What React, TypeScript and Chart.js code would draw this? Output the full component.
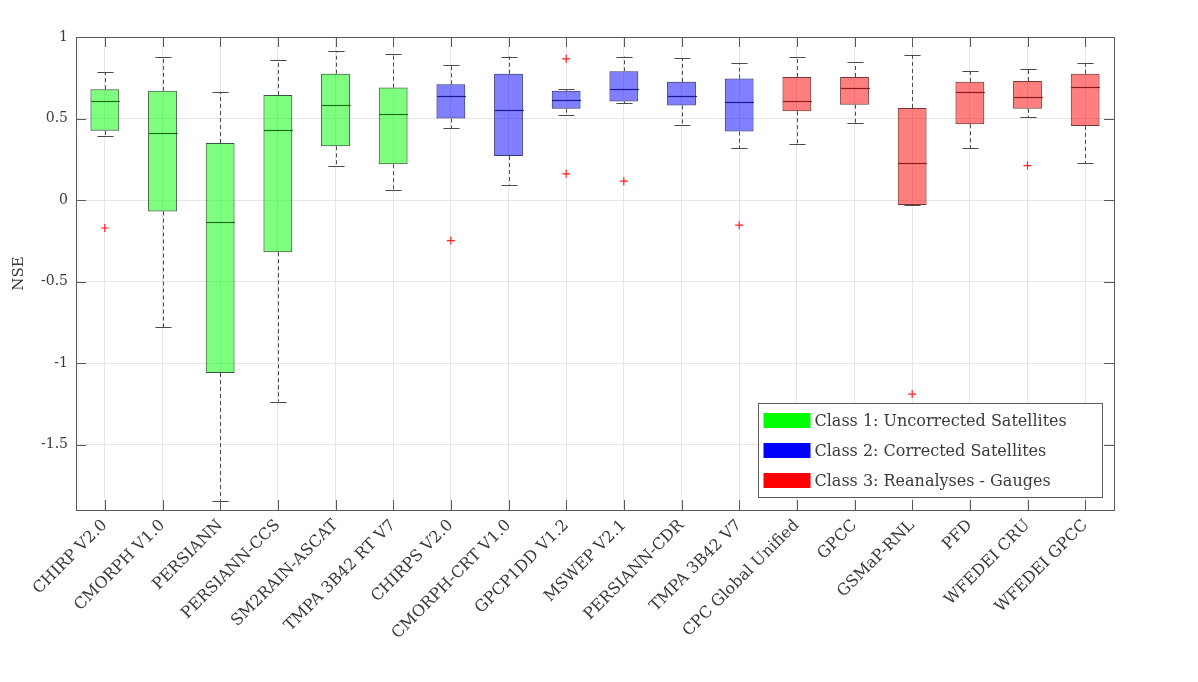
import React, { useEffect, useRef } from 'react';
import { Chart, registerables } from 'chart.js';

Chart.register(...registerables);

const categories = [
  'CHIRP V2.0', 'CMORPH V1.0', 'PERSIANN', 'PERSIANN-CCS', 'SM2RAIN-ASCAT', 'TMPA 3B42 RT V7',
  'CHIRPS V2.0', 'CMORPH-CRT V1.0', 'GPCP1DD V1.2', 'MSWEP V2.1', 'PERSIANN-CDR', 'TMPA 3B42 V7',
  'CPC Global Unified', 'GPCC', 'GSMaP-RNL', 'PFD', 'WFEDEI CRU', 'WFEDEI GPCC',
];
const classOf = [0, 0, 0, 0, 0, 0, 1, 1, 1, 1, 1, 1, 2, 2, 2, 2, 2, 2];
const classLabels = ['Class 1: Uncorrected Satellites', 'Class 2: Corrected Satellites', 'Class 3: Reanalyses - Gauges'];

const whiskerLow = [0.39, -0.78, -1.845, -1.235, 0.21, 0.06, 0.44, 0.095, 0.52, 0.595, 0.46, 0.32, 0.345, 0.47, -0.03, 0.32, 0.51, 0.225];
const q1 = [0.425, -0.07, -1.06, -0.32, 0.33, 0.22, 0.5, 0.27, 0.56, 0.605, 0.58, 0.42, 0.545, 0.585, -0.03, 0.465, 0.56, 0.455];
const median = [0.61, 0.41, -0.135, 0.43, 0.585, 0.525, 0.64, 0.555, 0.615, 0.68, 0.64, 0.6, 0.61, 0.69, 0.23, 0.66, 0.63, 0.695];
const q3 = [0.68, 0.67, 0.35, 0.645, 0.775, 0.69, 0.71, 0.775, 0.67, 0.79, 0.725, 0.745, 0.755, 0.755, 0.565, 0.725, 0.73, 0.775];
const whiskerHigh = [0.785, 0.88, 0.665, 0.86, 0.915, 0.895, 0.83, 0.88, 0.68, 0.88, 0.87, 0.84, 0.88, 0.845, 0.89, 0.79, 0.805, 0.84];

const outlierCategories = ['CHIRP V2.0', 'CHIRPS V2.0', 'GPCP1DD V1.2', 'GPCP1DD V1.2', 'MSWEP V2.1', 'TMPA 3B42 V7', 'GSMaP-RNL', 'WFEDEI CRU'];
const outlierValues = [-0.171, -0.248, 0.866, 0.161, 0.116, -0.154, -1.189, 0.212];

const yTickValues = [1, 0.5, 0, -0.5, -1, -1.5];
const yMin = -1.9;
const yMax = 1;

const fillColors = ['rgba(0,255,0,0.5)', 'rgba(0,0,255,0.5)', 'rgba(255,0,0,0.5)'];
const edgeColors = ['#35583a', '#363678', '#783636'];
const medianColors = ['#1a6e1a', '#1a1a8c', '#8c1a1a'];
const swatchColors = ['#00ff00', '#0000ff', '#ff0000'];
const OUTLIER = '#ff2020';

const FONT = "'DejaVu Serif', 'Liberation Serif', serif";
const TEXT = '#3a3a3a';
const AXIS = '#5a5a5a';

const boxPlugin = {
  id: 'boxExtras',
  afterDatasetsDraw(chart: any) {
    const { ctx, scales } = chart;
    const x = scales.x;
    const y = scales.y;
    const step = x.getPixelForValue(1) - x.getPixelForValue(0);
    const half = step * 0.25;
    const cap = step * 0.14;
    ctx.save();
    for (let i = 0; i < categories.length; i++) {
      const cx = Math.round(x.getPixelForValue(i)) + 0.5;
      const c = classOf[i];
      ctx.strokeStyle = '#4a4a4a';
      ctx.lineWidth = 1;
      ctx.setLineDash([4, 3]);
      ctx.beginPath();
      ctx.moveTo(cx, y.getPixelForValue(q3[i]));
      ctx.lineTo(cx, y.getPixelForValue(whiskerHigh[i]));
      ctx.moveTo(cx, y.getPixelForValue(q1[i]));
      ctx.lineTo(cx, y.getPixelForValue(whiskerLow[i]));
      ctx.stroke();
      ctx.setLineDash([]);
      ctx.beginPath();
      const yh = Math.round(y.getPixelForValue(whiskerHigh[i])) + 0.5;
      const yl = Math.round(y.getPixelForValue(whiskerLow[i])) + 0.5;
      ctx.moveTo(cx - cap, yh);
      ctx.lineTo(cx + cap, yh);
      ctx.moveTo(cx - cap, yl);
      ctx.lineTo(cx + cap, yl);
      ctx.stroke();
      ctx.strokeStyle = medianColors[c];
      ctx.lineWidth = 1.2;
      ctx.beginPath();
      const ym = Math.round(y.getPixelForValue(median[i])) + 0.5;
      ctx.moveTo(cx - half, ym);
      ctx.lineTo(cx + half, ym);
      ctx.stroke();
    }
    ctx.restore();
  },
  afterDraw(chart: any) {
    const { ctx, chartArea, scales } = chart;
    const x = scales.x;
    const y = scales.y;
    const { left, right, top, bottom } = chartArea;
    ctx.save();
    ctx.strokeStyle = AXIS;
    ctx.lineWidth = 1;
    ctx.strokeRect(Math.round(left) + 0.5, Math.round(top) + 0.5, Math.round(right - left), Math.round(bottom - top));
    const tl = 10;
    ctx.beginPath();
    for (let i = 0; i < categories.length; i++) {
      const px = Math.round(x.getPixelForValue(i)) + 0.5;
      ctx.moveTo(px, bottom);
      ctx.lineTo(px, bottom - tl);
      ctx.moveTo(px, top);
      ctx.lineTo(px, top + tl);
    }
    for (const v of yTickValues) {
      const py = Math.round(y.getPixelForValue(v)) + 0.5;
      ctx.moveTo(left, py);
      ctx.lineTo(left + tl, py);
      ctx.moveTo(right, py);
      ctx.lineTo(right - tl, py);
    }
    ctx.stroke();

    // legend
    const lw = 344;
    const lh = 94;
    const lx = Math.round(right - 12 - lw) + 0.5;
    const ly = Math.round(bottom - 13 - lh) + 0.5;
    ctx.fillStyle = '#ffffff';
    ctx.fillRect(lx, ly, lw, lh);
    ctx.strokeStyle = AXIS;
    ctx.strokeRect(lx, ly, lw, lh);
    ctx.font = `16px ${FONT}`;
    ctx.textBaseline = 'middle';
    ctx.textAlign = 'left';
    for (let k = 0; k < classLabels.length; k++) {
      const cy = ly + 17 + k * 30;
      ctx.fillStyle = swatchColors[k];
      ctx.fillRect(lx + 5, cy - 7.5, 47, 15);
      ctx.fillStyle = TEXT;
      ctx.fillText(classLabels[k], lx + 56, cy + 1);
    }
    ctx.restore();
  },
};

export default function App() {
  const canvasRef = useRef<HTMLCanvasElement | null>(null);

  useEffect(() => {
    const canvas = canvasRef.current;
    if (!canvas) return;
    const barDatasets = classLabels.map((label, c) => ({
      type: 'bar' as const,
      label,
      data: categories.map((_, i) => (classOf[i] === c ? [q1[i], q3[i]] : null)),
      backgroundColor: fillColors[c],
      borderColor: edgeColors[c],
      borderWidth: 1,
      borderSkipped: false,
      grouped: false,
      barPercentage: 0.5,
      categoryPercentage: 1,
      order: 2,
    }));
    const chart = new Chart(canvas, {
      type: 'bar',
      data: {
        labels: categories,
        datasets: [
          ...barDatasets,
          {
            type: 'scatter' as const,
            label: 'Outliers',
            data: outlierCategories.map((cat, k) => ({ x: cat, y: outlierValues[k] })),
            pointStyle: 'cross',
            radius: 4,
            hoverRadius: 4,
            pointBorderColor: OUTLIER,
            pointHoverBorderColor: OUTLIER,
            borderColor: OUTLIER,
            backgroundColor: OUTLIER,
            borderWidth: 1.2,
            order: 0,
          } as any,
        ],
      },
      options: {
        animation: false,
        events: [],
        responsive: true,
        maintainAspectRatio: false,
        layout: { padding: { top: 37, right: 84, left: 0, bottom: 0 } },
        plugins: {
          legend: { display: false },
          tooltip: { enabled: false },
        },
        scales: {
          x: {
            type: 'category',
            offset: true,
            grid: { color: '#e6e6e6', drawTicks: false, offset: false },
            border: { display: false },
            ticks: {
              minRotation: 45,
              maxRotation: 45,
              autoSkip: false,
              padding: 6,
              color: TEXT,
              font: { family: FONT, size: 16 },
            },
            afterFit: (s: any) => {
              s.height = 172;
            },
          },
          y: {
            type: 'linear',
            min: yMin,
            max: yMax,
            afterBuildTicks: (s: any) => {
              s.ticks = yTickValues.map((v) => ({ value: v }));
            },
            grid: { color: '#e6e6e6', drawTicks: false },
            border: { display: false },
            ticks: {
              padding: 8,
              color: TEXT,
              font: { family: FONT, size: 14 },
              callback: (v: any) => String(v),
            },
            title: {
              display: true,
              text: 'NSE',
              color: TEXT,
              font: { family: FONT, size: 15 },
              padding: { top: 10, bottom: 0 },
            },
            afterFit: (s: any) => {
              s.width = 76;
            },
          },
        },
      },
      plugins: [boxPlugin],
    });
    return () => chart.destroy();
  }, []);

  return (
    <div style={{ position: 'absolute', left: 0, top: 0, width: 1198, height: 682, background: '#fff' }}>
      <canvas ref={canvasRef} />
    </div>
  );
}
